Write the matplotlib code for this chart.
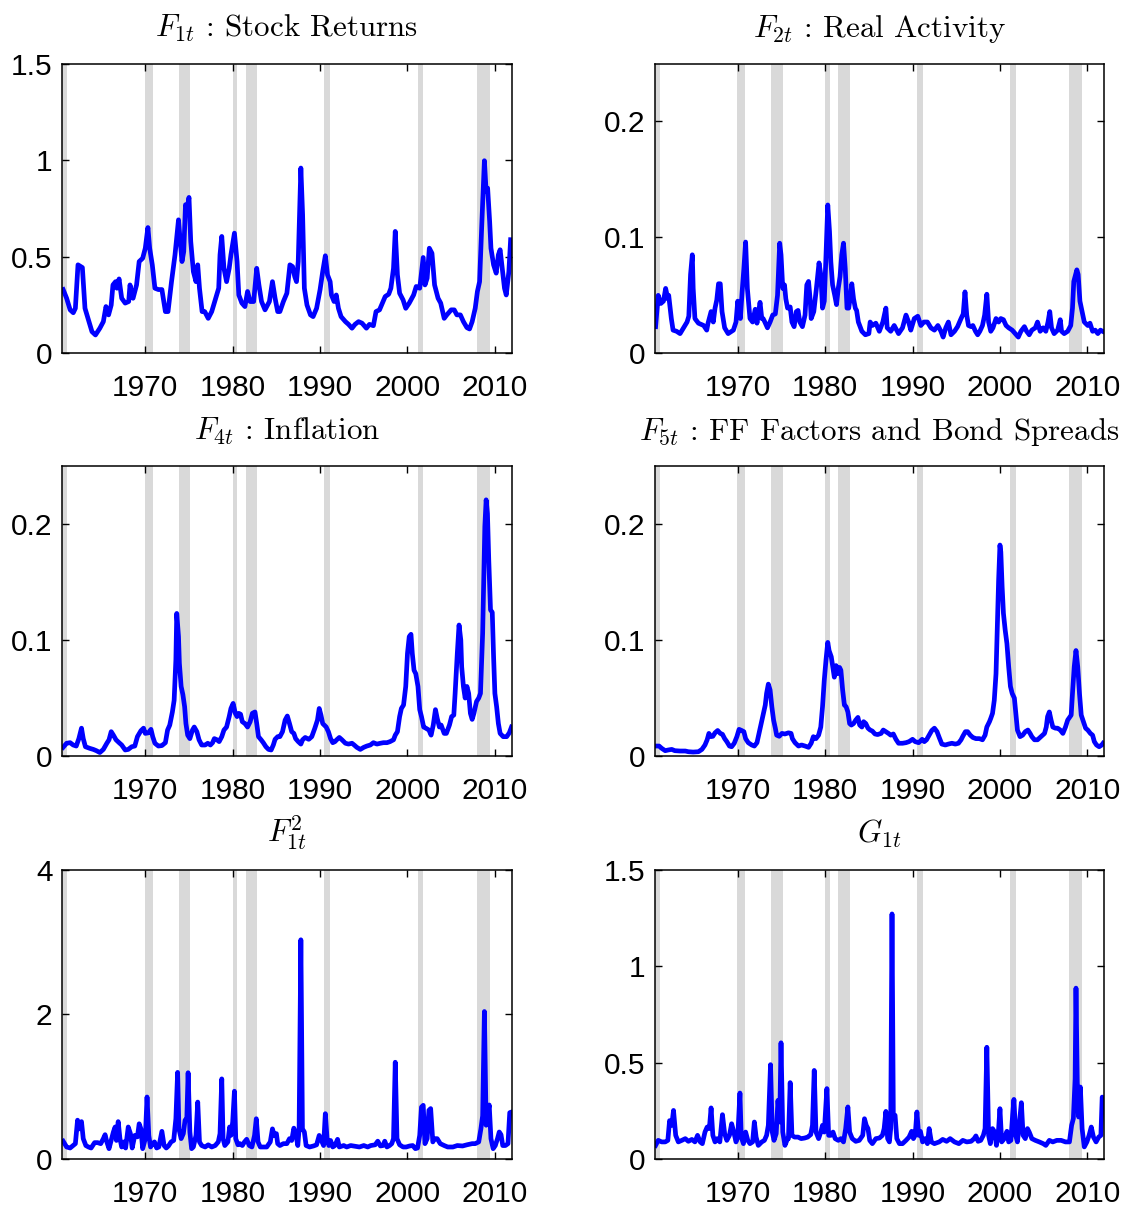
import matplotlib.pyplot as plt
from matplotlib.ticker import FormatStrFormatter

plt.rcParams['mathtext.fontset'] = 'cm'

# NBER recessions (shaded)
rec_start = [1960.25, 1969.92, 1973.83, 1980.0, 1981.5, 1990.5, 2001.17, 2007.92]
rec_end = [1961.08, 1970.83, 1975.17, 1980.5, 1982.83, 1991.17, 2001.83, 2009.42]

year_ticks = [1970, 1980, 1990, 2000, 2010]

# (year, value)
f1_stock = [
    (1960.6, 0.33), (1961.0, 0.285), (1961.4, 0.225), (1961.76, 0.21), (1962.0, 0.233),
    (1962.3, 0.458), (1962.8, 0.444), (1963.1, 0.233), (1963.5, 0.173), (1963.9, 0.112),
    (1964.3, 0.095), (1964.8, 0.13), (1965.2, 0.164), (1965.5, 0.242), (1965.8, 0.199),
    (1966.1, 0.25), (1966.3, 0.354), (1966.6, 0.371), (1966.75, 0.337), (1967.0, 0.385),
    (1967.3, 0.285), (1967.7, 0.26), (1968.1, 0.268), (1968.25, 0.354), (1968.6, 0.285),
    (1969.0, 0.354), (1969.3, 0.475), (1969.7, 0.492), (1970.0, 0.544), (1970.3, 0.651),
    (1970.5, 0.544), (1970.8, 0.458), (1971.1, 0.337), (1971.5, 0.33), (1971.9, 0.33),
    (1972.3, 0.216), (1972.6, 0.216), (1973.0, 0.371), (1973.4, 0.51), (1973.8, 0.691),
    (1974.0, 0.579), (1974.2, 0.475), (1974.4, 0.527), (1974.6, 0.769), (1974.8, 0.752),
    (1975.0, 0.807), (1975.2, 0.579), (1975.5, 0.423), (1975.8, 0.371), (1976.0, 0.458),
    (1976.2, 0.337), (1976.5, 0.216), (1976.8, 0.216), (1977.2, 0.181), (1977.6, 0.216),
    (1978.05, 0.285), (1978.4, 0.337), (1978.55, 0.51), (1978.75, 0.605), (1979.0, 0.44),
    (1979.3, 0.371), (1979.6, 0.44), (1979.8, 0.51), (1980.2, 0.622), (1980.5, 0.475),
    (1980.7, 0.302), (1981.05, 0.26), (1981.4, 0.242), (1981.7, 0.32), (1982.0, 0.268),
    (1982.4, 0.268), (1982.75, 0.44), (1983.0, 0.354), (1983.3, 0.268), (1983.7, 0.225),
    (1984.2, 0.268), (1984.55, 0.371), (1984.85, 0.285), (1985.15, 0.216), (1985.4, 0.216),
    (1985.8, 0.268), (1986.2, 0.311), (1986.55, 0.458), (1986.85, 0.449), (1987.1, 0.397),
    (1987.3, 0.371), (1987.5, 0.475), (1987.8, 0.959), (1988.0, 0.717), (1988.2, 0.337),
    (1988.5, 0.25), (1988.9, 0.199), (1989.2, 0.19), (1989.6, 0.233), (1990.0, 0.33),
    (1990.3, 0.423), (1990.6, 0.505), (1990.85, 0.406), (1991.15, 0.371), (1991.3, 0.302),
    (1991.6, 0.268), (1991.85, 0.302), (1992.1, 0.233), (1992.4, 0.19), (1992.9, 0.164),
    (1993.25, 0.15), (1993.65, 0.13), (1994.0, 0.15), (1994.4, 0.164), (1994.8, 0.156),
    (1995.3, 0.13), (1995.65, 0.15), (1996.1, 0.143), (1996.4, 0.216), (1996.8, 0.225),
    (1997.2, 0.268), (1997.45, 0.294), (1997.85, 0.306), (1998.1, 0.337), (1998.4, 0.44),
    (1998.6, 0.631), (1998.85, 0.406), (1999.1, 0.311), (1999.5, 0.276), (1999.8, 0.233),
    (2000.2, 0.26), (2000.7, 0.302), (2001.0, 0.346), (2001.4, 0.337), (2001.8, 0.496),
    (2002.0, 0.354), (2002.25, 0.389), (2002.5, 0.544), (2002.8, 0.518), (2003.1, 0.354),
    (2003.5, 0.285), (2003.8, 0.26), (2004.2, 0.181), (2004.5, 0.199), (2005.0, 0.225),
    (2005.35, 0.225), (2005.65, 0.199), (2006.05, 0.199), (2006.4, 0.164), (2006.8, 0.133),
    (2007.1, 0.126), (2007.4, 0.164), (2007.75, 0.233), (2008.0, 0.32), (2008.25, 0.371),
    (2008.5, 0.665), (2008.8, 0.997), (2009.0, 0.838), (2009.17, 0.855), (2009.4, 0.683),
    (2009.55, 0.544), (2009.85, 0.458), (2010.15, 0.415), (2010.4, 0.51), (2010.6, 0.536),
    (2010.8, 0.458), (2011.1, 0.337), (2011.3, 0.302), (2011.6, 0.423), (2011.8, 0.588),
]

f2_real = [
    (1960.6, 0.023), (1960.9, 0.05), (1961.2, 0.043), (1961.5, 0.045), (1961.75, 0.056),
    (1962.0, 0.047), (1962.1, 0.05), (1962.4, 0.03), (1962.6, 0.02), (1963.0, 0.019),
    (1963.4, 0.017), (1963.8, 0.022), (1964.2, 0.027), (1964.4, 0.032), (1964.6, 0.068),
    (1964.8, 0.085), (1964.9, 0.056), (1965.1, 0.03), (1965.5, 0.026), (1966.1, 0.024),
    (1966.45, 0.02), (1966.6, 0.026), (1966.95, 0.036), (1967.2, 0.027), (1967.4, 0.039),
    (1967.6, 0.046), (1967.8, 0.06), (1968.0, 0.06), (1968.2, 0.036), (1968.5, 0.022),
    (1968.9, 0.017), (1969.5, 0.02), (1969.8, 0.027), (1970.0, 0.045), (1970.3, 0.03),
    (1970.5, 0.053), (1970.7, 0.073), (1970.9, 0.096), (1971.1, 0.056), (1971.4, 0.03),
    (1971.7, 0.027), (1972.0, 0.038), (1972.2, 0.026), (1972.4, 0.036), (1972.55, 0.044),
    (1972.75, 0.03), (1972.9, 0.03), (1973.1, 0.027), (1973.4, 0.022), (1973.7, 0.027),
    (1974.0, 0.033), (1974.3, 0.034), (1974.55, 0.05), (1974.8, 0.095), (1974.95, 0.085),
    (1975.15, 0.056), (1975.35, 0.059), (1975.5, 0.047), (1975.7, 0.039), (1976.0, 0.04),
    (1976.2, 0.027), (1976.45, 0.023), (1976.7, 0.036), (1976.9, 0.037), (1977.1, 0.027),
    (1977.4, 0.023), (1977.7, 0.033), (1977.9, 0.059), (1978.1, 0.062), (1978.3, 0.045),
    (1978.4, 0.03), (1978.7, 0.036), (1979.0, 0.056), (1979.3, 0.078), (1979.5, 0.068),
    (1979.7, 0.039), (1979.9, 0.045), (1980.1, 0.085), (1980.3, 0.128), (1980.5, 0.105),
    (1980.65, 0.079), (1980.85, 0.059), (1981.1, 0.05), (1981.3, 0.042), (1981.5, 0.056),
    (1981.7, 0.066), (1981.9, 0.085), (1982.1, 0.095), (1982.3, 0.073), (1982.5, 0.039),
    (1982.7, 0.039), (1982.9, 0.05), (1983.05, 0.06), (1983.25, 0.047), (1983.45, 0.039),
    (1983.6, 0.037), (1983.8, 0.027), (1984.2, 0.019), (1984.6, 0.016), (1985.0, 0.017),
    (1985.15, 0.027), (1985.4, 0.024), (1985.8, 0.026), (1986.2, 0.019), (1986.6, 0.027),
    (1986.95, 0.039), (1987.1, 0.022), (1987.5, 0.019), (1987.9, 0.024), (1988.4, 0.017),
    (1988.85, 0.022), (1989.25, 0.033), (1989.55, 0.027), (1989.8, 0.02), (1990.2, 0.03),
    (1990.6, 0.032), (1990.95, 0.024), (1991.3, 0.027), (1991.7, 0.027), (1992.1, 0.022),
    (1992.5, 0.02), (1992.9, 0.024), (1993.25, 0.019), (1993.5, 0.014), (1993.8, 0.022),
    (1994.1, 0.027), (1994.4, 0.016), (1994.8, 0.019), (1995.15, 0.023), (1995.55, 0.03),
    (1995.8, 0.034), (1996.0, 0.053), (1996.2, 0.033), (1996.4, 0.024), (1996.7, 0.023),
    (1996.9, 0.024), (1997.2, 0.019), (1997.45, 0.016), (1997.7, 0.019), (1998.0, 0.024),
    (1998.25, 0.033), (1998.5, 0.051), (1998.7, 0.027), (1998.95, 0.019), (1999.2, 0.022),
    (1999.55, 0.03), (1999.85, 0.027), (2000.1, 0.03), (2000.4, 0.029), (2000.7, 0.024),
    (2001.0, 0.022), (2001.4, 0.02), (2001.75, 0.017), (2002.1, 0.014), (2002.4, 0.019),
    (2002.8, 0.023), (2003.05, 0.019), (2003.35, 0.016), (2003.65, 0.02), (2004.05, 0.022),
    (2004.3, 0.027), (2004.6, 0.019), (2004.95, 0.022), (2005.25, 0.019), (2005.5, 0.027),
    (2005.7, 0.036), (2005.9, 0.022), (2006.2, 0.017), (2006.6, 0.02), (2006.9, 0.029),
    (2007.05, 0.019), (2007.35, 0.017), (2007.75, 0.019), (2008.1, 0.024), (2008.3, 0.039),
    (2008.45, 0.062), (2008.8, 0.072), (2008.95, 0.068), (2009.15, 0.045), (2009.4, 0.036),
    (2009.65, 0.027), (2010.05, 0.024), (2010.3, 0.026), (2010.6, 0.019), (2010.9, 0.02),
    (2011.2, 0.017), (2011.5, 0.02), (2011.75, 0.019),
]

f4_infl = [
    (1960.6, 0.0075), (1961.0, 0.011), (1961.4, 0.0115), (1961.75, 0.0095), (1962.1, 0.0086),
    (1962.4, 0.015), (1962.7, 0.024), (1962.9, 0.015), (1963.15, 0.008), (1963.65, 0.0066),
    (1964.05, 0.0057), (1964.4, 0.0046), (1964.8, 0.003), (1965.2, 0.0057), (1965.6, 0.011),
    (1965.85, 0.014), (1966.1, 0.021), (1966.35, 0.018), (1966.65, 0.014), (1967.0, 0.0115),
    (1967.3, 0.0095), (1967.7, 0.0052), (1968.05, 0.0057), (1968.45, 0.008), (1968.8, 0.0086),
    (1969.1, 0.0167), (1969.5, 0.0218), (1969.8, 0.024), (1970.0, 0.0195), (1970.35, 0.02),
    (1970.65, 0.023), (1970.85, 0.0167), (1971.1, 0.011), (1971.5, 0.0086), (1971.9, 0.009),
    (1972.3, 0.0115), (1972.55, 0.0224), (1972.8, 0.0267), (1973.1, 0.038), (1973.3, 0.048),
    (1973.5, 0.083), (1973.6, 0.123), (1973.8, 0.103), (1973.9, 0.08), (1974.1, 0.06),
    (1974.3, 0.053), (1974.5, 0.0425), (1974.65, 0.028), (1974.85, 0.018), (1975.1, 0.015),
    (1975.4, 0.0224), (1975.6, 0.025), (1975.9, 0.021), (1976.15, 0.014), (1976.45, 0.0095),
    (1976.85, 0.0095), (1977.15, 0.011), (1977.45, 0.0095), (1977.7, 0.0115), (1977.9, 0.015),
    (1978.2, 0.014), (1978.45, 0.0124), (1978.75, 0.0167), (1979.0, 0.0224), (1979.3, 0.025),
    (1979.6, 0.034), (1979.8, 0.041), (1980.05, 0.0454), (1980.3, 0.0368), (1980.5, 0.034),
    (1980.7, 0.0368), (1980.9, 0.036), (1981.1, 0.0296), (1981.4, 0.028), (1981.7, 0.025),
    (1982.0, 0.0296), (1982.25, 0.0368), (1982.55, 0.038), (1982.75, 0.028), (1982.95, 0.0167),
    (1983.25, 0.014), (1983.5, 0.0115), (1983.8, 0.008), (1984.1, 0.0057), (1984.4, 0.0052),
    (1984.65, 0.0095), (1984.85, 0.0144), (1985.15, 0.0167), (1985.4, 0.0167), (1985.7, 0.021),
    (1986.0, 0.031), (1986.25, 0.0345), (1986.5, 0.028), (1986.75, 0.021), (1987.0, 0.0195),
    (1987.2, 0.015), (1987.5, 0.0124), (1987.8, 0.0103), (1988.0, 0.014), (1988.3, 0.016),
    (1988.7, 0.0144), (1989.05, 0.0167), (1989.4, 0.024), (1989.7, 0.031), (1989.9, 0.041),
    (1990.1, 0.0353), (1990.3, 0.028), (1990.7, 0.025), (1990.95, 0.021), (1991.2, 0.015),
    (1991.45, 0.0115), (1991.7, 0.0124), (1991.9, 0.014), (1992.2, 0.016), (1992.5, 0.014),
    (1992.9, 0.011), (1993.25, 0.0103), (1993.65, 0.011), (1993.9, 0.0095), (1994.2, 0.0075),
    (1994.6, 0.0057), (1995.0, 0.0075), (1995.35, 0.0086), (1995.75, 0.0095), (1996.1, 0.0115),
    (1996.5, 0.0103), (1996.9, 0.011), (1997.25, 0.0115), (1997.65, 0.0115), (1998.0, 0.0124),
    (1998.4, 0.014), (1998.6, 0.018), (1998.85, 0.021), (1999.1, 0.034), (1999.3, 0.041),
    (1999.55, 0.044), (1999.8, 0.06), (2000.0, 0.0885), (2000.2, 0.103), (2000.4, 0.105),
    (2000.55, 0.0885), (2000.75, 0.074), (2000.95, 0.071), (2001.2, 0.06), (2001.4, 0.04),
    (2001.6, 0.034), (2001.85, 0.025), (2002.1, 0.024), (2002.45, 0.0224), (2002.7, 0.018),
    (2002.95, 0.0267), (2003.2, 0.04), (2003.4, 0.0325), (2003.65, 0.025), (2003.85, 0.0267),
    (2004.2, 0.0195), (2004.45, 0.0195), (2004.8, 0.0267), (2005.05, 0.034), (2005.3, 0.0353),
    (2005.45, 0.054), (2005.7, 0.0885), (2005.9, 0.113), (2006.1, 0.1), (2006.2, 0.077),
    (2006.4, 0.06), (2006.6, 0.05), (2006.8, 0.06), (2007.0, 0.054), (2007.2, 0.0368),
    (2007.4, 0.0316), (2007.6, 0.0368), (2007.9, 0.047), (2008.15, 0.05), (2008.35, 0.054),
    (2008.6, 0.106), (2008.85, 0.198), (2009.0, 0.221), (2009.15, 0.209), (2009.3, 0.169),
    (2009.5, 0.126), (2009.7, 0.124), (2009.85, 0.086), (2010.0, 0.054), (2010.2, 0.0425),
    (2010.4, 0.028), (2010.6, 0.0195), (2010.95, 0.0167), (2011.35, 0.0167), (2011.65, 0.02),
    (2011.9, 0.025),
]

f5_ff = [
    (1960.6, 0.0086), (1961.0, 0.0086), (1961.3, 0.0066), (1961.7, 0.0046), (1962.05, 0.0052),
    (1962.45, 0.0057), (1962.8, 0.0046), (1963.4, 0.0043), (1964.0, 0.0043), (1964.35, 0.0037),
    (1964.9, 0.0034), (1965.5, 0.0037), (1965.9, 0.0057), (1966.25, 0.0095), (1966.5, 0.014),
    (1966.7, 0.0195), (1966.9, 0.0167), (1967.15, 0.017), (1967.4, 0.02), (1967.7, 0.022),
    (1968.0, 0.0195), (1968.25, 0.0187), (1968.5, 0.015), (1968.75, 0.0124), (1969.05, 0.0086),
    (1969.3, 0.008), (1969.6, 0.011), (1969.9, 0.0167), (1970.15, 0.023), (1970.45, 0.022),
    (1970.7, 0.021), (1970.9, 0.015), (1971.2, 0.0115), (1971.6, 0.0095), (1971.9, 0.0086),
    (1972.2, 0.0115), (1972.35, 0.0167), (1972.6, 0.025), (1972.85, 0.034), (1973.15, 0.044),
    (1973.3, 0.054), (1973.5, 0.062), (1973.7, 0.057), (1973.9, 0.0425), (1974.1, 0.031),
    (1974.3, 0.024), (1974.45, 0.018), (1974.75, 0.017), (1975.05, 0.0195), (1975.4, 0.019),
    (1975.8, 0.02), (1976.1, 0.0195), (1976.25, 0.015), (1976.55, 0.0115), (1976.95, 0.0086),
    (1977.3, 0.0095), (1977.7, 0.0086), (1978.1, 0.0075), (1978.4, 0.011), (1978.65, 0.0167),
    (1978.95, 0.015), (1979.25, 0.018), (1979.5, 0.025), (1979.7, 0.0425), (1979.9, 0.0655),
    (1980.1, 0.083), (1980.3, 0.098), (1980.45, 0.091), (1980.7, 0.0856), (1980.9, 0.0756),
    (1981.05, 0.068), (1981.25, 0.078), (1981.45, 0.071), (1981.65, 0.0764), (1981.8, 0.074),
    (1982.0, 0.057), (1982.2, 0.044), (1982.4, 0.0425), (1982.6, 0.038), (1982.8, 0.028),
    (1983.0, 0.0267), (1983.25, 0.028), (1983.5, 0.031), (1983.75, 0.0333), (1983.95, 0.0267),
    (1984.2, 0.025), (1984.4, 0.0296), (1984.65, 0.028), (1984.9, 0.024), (1985.15, 0.0224),
    (1985.4, 0.0215), (1985.7, 0.019), (1986.0, 0.0185), (1986.4, 0.0195), (1986.65, 0.0224),
    (1986.95, 0.021), (1987.25, 0.0195), (1987.5, 0.018), (1987.8, 0.019), (1988.1, 0.0144),
    (1988.4, 0.011), (1988.85, 0.011), (1989.25, 0.0115), (1989.6, 0.0124), (1990.0, 0.0144),
    (1990.3, 0.0124), (1990.7, 0.0115), (1991.1, 0.0144), (1991.35, 0.0124), (1991.6, 0.014),
    (1991.9, 0.018), (1992.2, 0.022), (1992.5, 0.024), (1992.8, 0.021), (1993.05, 0.016),
    (1993.35, 0.0103), (1993.75, 0.0095), (1994.1, 0.0103), (1994.5, 0.011), (1994.9, 0.0103),
    (1995.25, 0.011), (1995.55, 0.014), (1995.75, 0.017), (1996.05, 0.021), (1996.3, 0.021),
    (1996.6, 0.018), (1996.9, 0.016), (1997.25, 0.015), (1997.65, 0.015), (1998.0, 0.014),
    (1998.3, 0.018), (1998.5, 0.025), (1998.8, 0.0296), (1998.95, 0.0325), (1999.15, 0.0368),
    (1999.35, 0.048), (1999.55, 0.071), (1999.7, 0.1115), (1999.85, 0.152), (2000.0, 0.182),
    (2000.1, 0.176), (2000.25, 0.146), (2000.4, 0.123), (2000.6, 0.1086), (2000.8, 0.097),
    (2001.0, 0.077), (2001.2, 0.06), (2001.4, 0.054), (2001.65, 0.05), (2001.85, 0.034),
    (2002.0, 0.0224), (2002.3, 0.0167), (2002.6, 0.018), (2002.9, 0.021), (2003.2, 0.0224),
    (2003.45, 0.0195), (2003.65, 0.0167), (2003.95, 0.014), (2004.3, 0.014), (2004.7, 0.0167),
    (2005.1, 0.0195), (2005.3, 0.025), (2005.45, 0.034), (2005.65, 0.038), (2005.85, 0.031),
    (2006.05, 0.025), (2006.35, 0.024), (2006.6, 0.024), (2006.9, 0.0224), (2007.2, 0.0195),
    (2007.5, 0.025), (2007.75, 0.031), (2008.15, 0.0353), (2008.3, 0.054), (2008.5, 0.077),
    (2008.7, 0.091), (2008.9, 0.077), (2009.1, 0.054), (2009.3, 0.0353), (2009.55, 0.0296),
    (2009.8, 0.024), (2010.05, 0.0224), (2010.35, 0.0195), (2010.6, 0.018), (2010.8, 0.0124),
    (2011.05, 0.0095), (2011.35, 0.008), (2011.65, 0.0095), (2011.8, 0.011),
]

f1_sq = [
    (1960.6, 0.25), (1961.0, 0.17), (1961.4, 0.156), (1961.75, 0.19), (1962.0, 0.216),
    (1962.25, 0.54), (1962.45, 0.42), (1962.7, 0.52), (1962.9, 0.285), (1963.2, 0.19),
    (1963.5, 0.17), (1963.8, 0.156), (1964.2, 0.23), (1964.55, 0.23), (1964.9, 0.216),
    (1965.2, 0.285), (1965.4, 0.34), (1965.6, 0.24), (1965.85, 0.147), (1966.15, 0.285),
    (1966.35, 0.377), (1966.55, 0.446), (1966.7, 0.26), (1966.9, 0.52), (1967.1, 0.285),
    (1967.3, 0.17), (1967.55, 0.24), (1967.75, 0.156), (1968.05, 0.446), (1968.3, 0.354),
    (1968.5, 0.156), (1968.8, 0.33), (1969.1, 0.31), (1969.3, 0.49), (1969.5, 0.42),
    (1969.7, 0.147), (1970.0, 0.285), (1970.2, 0.86), (1970.4, 0.33), (1970.6, 0.17),
    (1970.85, 0.216), (1971.05, 0.24), (1971.3, 0.156), (1971.55, 0.17), (1971.9, 0.386),
    (1972.15, 0.19), (1972.4, 0.156), (1972.65, 0.184), (1972.95, 0.24), (1973.25, 0.26),
    (1973.5, 0.56), (1973.7, 1.2), (1973.85, 0.42), (1974.1, 0.285), (1974.35, 0.354),
    (1974.55, 0.54), (1974.75, 0.56), (1974.9, 1.195), (1975.1, 0.377), (1975.3, 0.147),
    (1975.5, 0.17), (1975.8, 0.33), (1976.0, 0.79), (1976.2, 0.24), (1976.45, 0.19),
    (1976.85, 0.17), (1977.2, 0.2), (1977.6, 0.17), (1978.0, 0.19), (1978.35, 0.24),
    (1978.55, 0.354), (1978.75, 1.11), (1978.9, 0.285), (1979.1, 0.19), (1979.45, 0.24),
    (1979.65, 0.446), (1979.8, 0.33), (1980.0, 0.515), (1980.2, 0.94), (1980.35, 0.285),
    (1980.6, 0.2), (1980.85, 0.216), (1981.1, 0.19), (1981.35, 0.24), (1981.6, 0.276),
    (1981.9, 0.19), (1982.2, 0.17), (1982.5, 0.33), (1982.7, 0.56), (1982.9, 0.24),
    (1983.15, 0.17), (1983.5, 0.17), (1983.9, 0.17), (1984.3, 0.24), (1984.55, 0.42),
    (1984.75, 0.33), (1985.0, 0.354), (1985.15, 0.216), (1985.4, 0.19), (1985.8, 0.216),
    (1986.2, 0.216), (1986.5, 0.285), (1986.75, 0.26), (1987.0, 0.43), (1987.25, 0.33),
    (1987.45, 0.19), (1987.6, 0.42), (1987.8, 3.03), (1987.98, 0.42), (1988.2, 0.377),
    (1988.4, 0.19), (1988.8, 0.17), (1989.25, 0.184), (1989.6, 0.2), (1989.9, 0.33),
    (1990.15, 0.26), (1990.4, 0.19), (1990.6, 0.63), (1990.8, 0.285), (1991.0, 0.19),
    (1991.2, 0.26), (1991.45, 0.17), (1991.7, 0.19), (1992.0, 0.276), (1992.2, 0.17),
    (1992.7, 0.19), (1993.05, 0.17), (1993.5, 0.19), (1994.0, 0.18), (1994.5, 0.17),
    (1995.0, 0.19), (1995.45, 0.17), (1995.8, 0.19), (1996.3, 0.2), (1996.6, 0.25),
    (1996.9, 0.184), (1997.2, 0.19), (1997.4, 0.25), (1997.65, 0.17), (1997.95, 0.19),
    (1998.2, 0.216), (1998.4, 0.285), (1998.6, 1.34), (1998.8, 0.285), (1999.1, 0.2),
    (1999.5, 0.17), (1999.85, 0.17), (2000.25, 0.184), (2000.6, 0.19), (2000.9, 0.147),
    (2001.15, 0.156), (2001.4, 0.33), (2001.6, 0.72), (2001.8, 0.745), (2002.0, 0.216),
    (2002.25, 0.285), (2002.45, 0.676), (2002.65, 0.7), (2002.9, 0.24), (2003.1, 0.285),
    (2003.4, 0.285), (2003.75, 0.216), (2004.2, 0.19), (2004.6, 0.17), (2005.2, 0.17),
    (2005.7, 0.19), (2006.3, 0.184), (2006.8, 0.2), (2007.4, 0.216), (2007.75, 0.216),
    (2008.15, 0.24), (2008.4, 0.42), (2008.6, 0.6), (2008.8, 2.04), (2009.0, 0.47),
    (2009.15, 0.6), (2009.35, 0.75), (2009.55, 0.285), (2009.8, 0.147), (2010.05, 0.19),
    (2010.3, 0.285), (2010.5, 0.377), (2010.7, 0.34), (2010.9, 0.19), (2011.2, 0.19),
    (2011.5, 0.216), (2011.7, 0.644), (2011.85, 0.65),
]

g1 = [
    (1960.6, 0.072), (1960.9, 0.098), (1961.3, 0.09), (1961.7, 0.09), (1962.0, 0.098),
    (1962.2, 0.2), (1962.45, 0.176), (1962.65, 0.253), (1962.9, 0.124), (1963.2, 0.09),
    (1963.6, 0.098), (1964.0, 0.107), (1964.35, 0.093), (1964.75, 0.103), (1965.1, 0.09),
    (1965.4, 0.124), (1965.7, 0.09), (1965.95, 0.081), (1966.25, 0.141), (1966.5, 0.167),
    (1966.75, 0.159), (1966.95, 0.266), (1967.15, 0.124), (1967.4, 0.09), (1967.65, 0.107),
    (1967.95, 0.09), (1968.25, 0.231), (1968.5, 0.133), (1968.75, 0.098), (1969.05, 0.124),
    (1969.3, 0.184), (1969.55, 0.141), (1969.8, 0.09), (1970.0, 0.115), (1970.25, 0.343),
    (1970.4, 0.115), (1970.65, 0.081), (1970.9, 0.141), (1971.15, 0.098), (1971.4, 0.081),
    (1971.7, 0.09), (1971.9, 0.193), (1972.1, 0.115), (1972.35, 0.072), (1972.75, 0.09),
    (1973.05, 0.098), (1973.3, 0.124), (1973.5, 0.176), (1973.75, 0.49), (1973.95, 0.141),
    (1974.15, 0.098), (1974.4, 0.133), (1974.6, 0.305), (1974.8, 0.193), (1974.95, 0.603),
    (1975.15, 0.141), (1975.4, 0.072), (1975.7, 0.107), (1975.8, 0.107), (1976.0, 0.397),
    (1976.2, 0.124), (1976.5, 0.115), (1976.9, 0.115), (1977.25, 0.107), (1977.65, 0.11),
    (1978.0, 0.115), (1978.35, 0.128), (1978.55, 0.176), (1978.75, 0.46), (1978.95, 0.141),
    (1979.25, 0.107), (1979.5, 0.141), (1979.7, 0.176), (1979.9, 0.141), (1980.2, 0.366),
    (1980.4, 0.124), (1980.65, 0.124), (1980.9, 0.141), (1981.15, 0.107), (1981.5, 0.098),
    (1981.8, 0.107), (1982.1, 0.09), (1982.35, 0.159), (1982.6, 0.271), (1982.8, 0.141),
    (1983.1, 0.107), (1983.5, 0.093), (1983.9, 0.098), (1984.3, 0.124), (1984.5, 0.21),
    (1984.7, 0.176), (1984.9, 0.159), (1985.1, 0.098), (1985.4, 0.081), (1985.8, 0.107),
    (1986.2, 0.11), (1986.55, 0.124), (1986.75, 0.159), (1986.95, 0.248), (1987.15, 0.107),
    (1987.35, 0.09), (1987.5, 0.159), (1987.65, 1.27), (1987.8, 0.228), (1988.0, 0.228),
    (1988.2, 0.107), (1988.5, 0.081), (1988.85, 0.081), (1989.25, 0.098), (1989.6, 0.115),
    (1989.9, 0.145), (1990.1, 0.107), (1990.3, 0.124), (1990.5, 0.245), (1990.7, 0.124),
    (1990.9, 0.145), (1991.15, 0.09), (1991.45, 0.107), (1991.7, 0.081), (1991.9, 0.159),
    (1992.15, 0.09), (1992.5, 0.081), (1993.05, 0.09), (1993.45, 0.103), (1993.9, 0.093),
    (1994.3, 0.107), (1994.8, 0.09), (1995.3, 0.081), (1995.75, 0.098), (1996.2, 0.09),
    (1996.7, 0.093), (1997.05, 0.107), (1997.25, 0.121), (1997.5, 0.093), (1997.8, 0.098),
    (1998.1, 0.124), (1998.3, 0.159), (1998.5, 0.58), (1998.7, 0.124), (1998.9, 0.081),
    (1999.15, 0.159), (1999.4, 0.141), (1999.6, 0.072), (1999.85, 0.159), (2000.0, 0.262),
    (2000.2, 0.09), (2000.5, 0.107), (2000.8, 0.145), (2001.0, 0.09), (2001.25, 0.098),
    (2001.45, 0.228), (2001.6, 0.31), (2001.8, 0.124), (2002.0, 0.09), (2002.2, 0.176),
    (2002.45, 0.293), (2002.65, 0.124), (2002.9, 0.107), (2003.15, 0.159), (2003.35, 0.141),
    (2003.65, 0.107), (2004.05, 0.098), (2004.5, 0.09), (2004.95, 0.081), (2005.25, 0.072),
    (2005.65, 0.098), (2006.05, 0.09), (2006.5, 0.098), (2007.0, 0.098), (2007.5, 0.09),
    (2007.95, 0.09), (2008.2, 0.176), (2008.4, 0.21), (2008.6, 0.417), (2008.7, 0.886),
    (2008.85, 0.4), (2009.0, 0.219), (2009.2, 0.374), (2009.4, 0.159), (2009.65, 0.064),
    (2009.95, 0.09), (2010.2, 0.124), (2010.45, 0.167), (2010.7, 0.115), (2011.0, 0.09),
    (2011.3, 0.115), (2011.55, 0.124), (2011.7, 0.322), (2011.85, 0.314),
]

panels = [
    (f1_stock, r'$F_{1t}$ : Stock Returns', (0, 1.5), [0, 0.5, 1, 1.5]),
    (f2_real, r'$F_{2t}$ : Real Activity', (0, 0.25), [0, 0.1, 0.2]),
    (f4_infl, r'$F_{4t}$ : Inflation', (0, 0.25), [0, 0.1, 0.2]),
    (f5_ff, r'$F_{5t}$ : FF Factors and Bond Spreads', (0, 0.25), [0, 0.1, 0.2]),
    (f1_sq, r'$F_{1t}^2$', (0, 4), [0, 2, 4]),
    (g1, r'$G_{1t}$', (0, 1.5), [0, 0.5, 1, 1.5]),
]

fig = plt.figure(figsize=(11.3, 12.1), dpi=100)
lefts = [0.0551, 0.5794]
bottoms = [0.708, 0.3752, 0.0419]
w, h = 0.3977, 0.2395

for i, (pts, title, ylim, yt) in enumerate(panels):
    ax = fig.add_axes([lefts[i % 2], bottoms[i // 2], w, h])
    for s, e in zip(rec_start, rec_end):
        ax.axvspan(s, e, color='#d9d9d9', lw=0, zorder=0)
    xs = [p[0] for p in pts]
    ys = [p[1] for p in pts]
    ax.plot(xs, ys, color='#0000ff', lw=3.4, solid_joinstyle='round', zorder=2)
    ax.set_xlim(1960.5, 2011.92)
    ax.set_ylim(*ylim)
    ax.set_xticks(year_ticks)
    ax.set_yticks(yt)
    ax.yaxis.set_major_formatter(FormatStrFormatter('%g'))
    ax.tick_params(direction='in', top=True, right=True, length=5, width=1,
                   labelsize=21.5)
    ax.tick_params(axis='x', pad=15)
    ax.tick_params(axis='y', pad=7)
    for lab in ax.get_xticklabels() + ax.get_yticklabels():
        lab.set_family('Liberation Sans')
    for sp in ax.spines.values():
        sp.set_linewidth(1.1)
    ax.set_title(title, fontsize=22.3, family='cmr10', pad=19)

fig.savefig('out.png', dpi=100)
